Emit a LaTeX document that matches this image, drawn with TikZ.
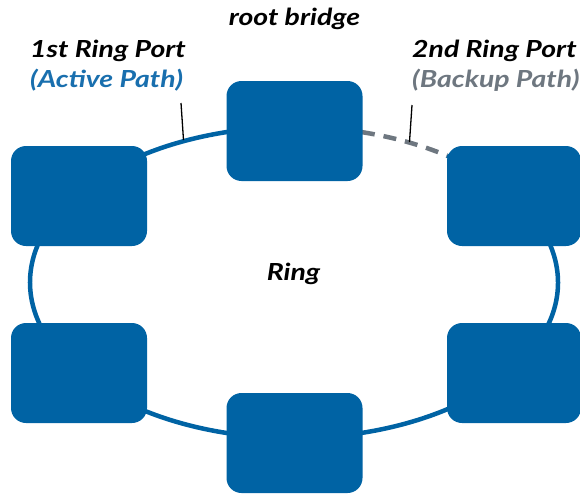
\documentclass[tikz,border=0pt]{standalone}
\usepackage{fontspec}
\setmainfont{Lato}[FakeStretch=1.21]
\definecolor{boxblue}{RGB}{0,99,164}
\definecolor{activeblue}{RGB}{25,111,174}
\definecolor{backupgray}{RGB}{110,119,128}
\tikzset{
  switchbox/.style={rectangle, rounded corners=15pt, fill=boxblue, draw=none,
    minimum width=136pt, minimum height=100pt, inner sep=0pt},
  ringline/.style={draw=boxblue, line width=4.5pt},
  backupline/.style={draw=backupgray, line width=4.5pt, dash pattern=on 13pt off 9pt},
  portline/.style={draw=black, line width=1.3pt},
  lbl/.style={font=\fontsize{23.5}{28}\selectfont\bfseries\itshape, inner sep=0pt},
}
\begin{document}
\begin{tikzpicture}[x=1pt,y=-1pt]
\useasboundingbox (0,0) rectangle (580,495);
% ring (solid part and dashed backup part)
\coordinate (ringc) at (294,282.5);
\draw[ringline] (ringc) ++(-54.6:264 and 155.6) arc[start angle=-54.6, end angle=284.9, x radius=264, y radius=155.6];
\draw[backupline] (ringc) ++(-75.1:264 and 155.6) arc[start angle=-75.1, end angle=-54.6, x radius=264, y radius=155.6];
% switches
\node[switchbox] (top) at (294.5,131) {};
\node[switchbox] (tl) at (79,196) {};
\node[switchbox, minimum width=134pt] (tr) at (514,196) {};
\node[switchbox] (bl) at (79,373) {};
\node[switchbox] (bc) at (294.5,443) {};
\node[switchbox, minimum width=134pt] (br) at (514,373) {};
% port markers
\coordinate (p1a) at (181,103);
\coordinate (p1b) at (183.5,140);
\coordinate (p2a) at (412,105);
\coordinate (p2b) at (409.5,142);
\draw[portline] (p1a) -- (p1b);
\draw[portline] (p2a) -- (p2b);
% labels
\node[lbl, anchor=base] (root) at (294.5,26) {root bridge};
\node[lbl, anchor=base west] (port1) at (30,57) {1st Ring Port};
\node[lbl, anchor=base west, text=activeblue] (act) at (30,87) {(Active Path)};
\node[lbl, anchor=base west] (port2) at (412,57) {2nd Ring Port};
\node[lbl, anchor=base west, text=backupgray] (bak) at (412,87) {(Backup Path)};
\node[lbl, anchor=base] (ring) at (293.5,280) {Ring};
\end{tikzpicture}
\end{document}
